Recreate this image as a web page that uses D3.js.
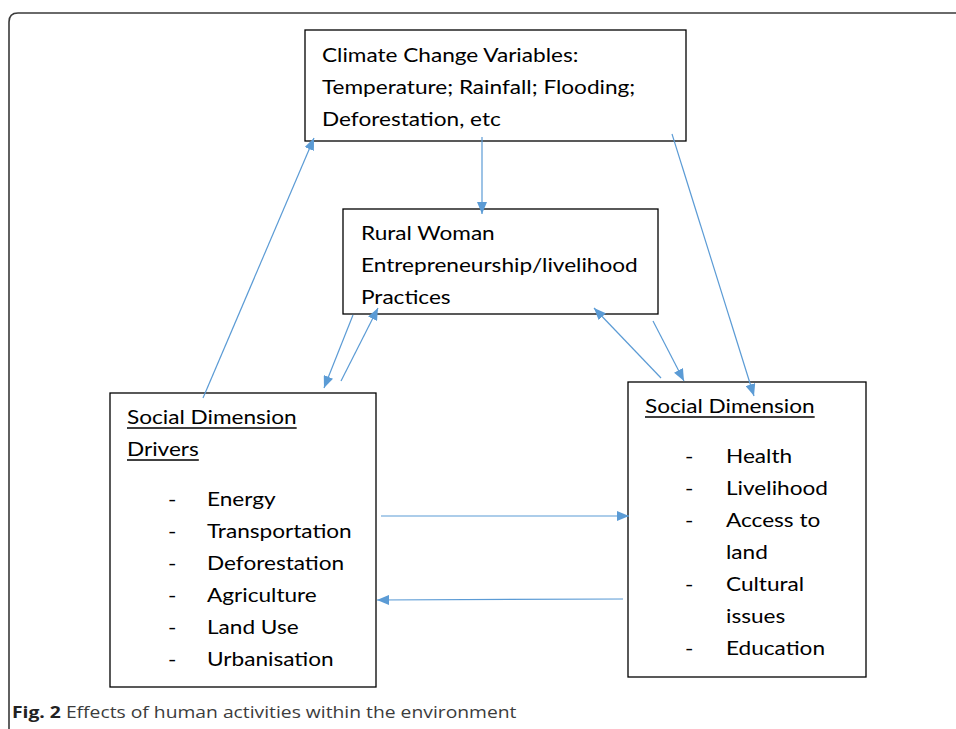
<!DOCTYPE html>
<html><head><meta charset="utf-8">
<script src="https://cdn.jsdelivr.net/npm/d3@7"></script>
<style>
html,body{margin:0;padding:0;background:#fff;}
svg{display:block;}
</style></head>
<body><svg id="fig" width="956" height="729"></svg>
<script>
// ── diagram content ──
const climateLines=['Climate Change Variables:','Temperature; Rainfall; Flooding;','Deforestation, etc'];
const ruralLines=['Rural Woman','Entrepreneurship/livelihood','Practices'];
const driverHead=['Social Dimension','Drivers'];
const driverItems=['Energy','Transportation','Deforestation','Agriculture','Land Use','Urbanisation'];
const socialHead=['Social Dimension'];
const socialItems=['Health','Livelihood','Access to','land','Cultural','issues','Education'];
const socialDash=[true,true,true,false,true,false,true];
const captionBold='Fig. 2';
const captionText=' Effects of human activities within the environment';
// arrows: [x1,y1,x2,y2] tail → tip
const arrowLinks=[
  [203,398,314,138],
  [482,137,482,214],
  [672,134,754,396],
  [353,315,324,388],
  [341,381,378,308],
  [661,378,594,308],
  [653,321,684,381],
  [381,516,629,516],
  [623,599,377,600]
];

const svg=d3.select('#fig');
const FONT='Lato, "Open Sans", sans-serif';
const BLUE='#5b9bd5';
const LH=32;

// outer frame (rounded top-left corner, runs off right/bottom)
svg.append('path')
  .attr('d','M9,740 L9,22 Q9,13 18,13 L970,13')
  .attr('fill','none').attr('stroke','#3a3a3a').attr('stroke-width',1.6);

svg.append('defs').append('marker')
  .attr('id','ah').attr('viewBox','0 0 12 10').attr('refX',12).attr('refY',5)
  .attr('markerWidth',12).attr('markerHeight',10).attr('markerUnits','userSpaceOnUse')
  .attr('orient','auto')
  .append('path').attr('d','M0,0 L12,5 L0,10 Z').attr('fill',BLUE);

// horizontal stretch so the text runs as wide as the source lettering
const probe=svg.append('text').attr('font-family',FONT).attr('font-size',20).text(ruralLines[1]);
const SX=277/probe.node().getComputedTextLength();
probe.remove();

function txt(x,y,t){
  return svg.append('text').attr('transform',`translate(${x},${y}) scale(${SX},1)`)
    .attr('font-family',FONT).attr('font-size',20).attr('fill','#000').text(t);
}
function box(x,y,w,h){
  svg.append('rect').attr('x',x).attr('y',y).attr('width',w).attr('height',h)
    .attr('fill','#fff').attr('stroke','#000').attr('stroke-width',1.3);
}
function lines(arr,x,y0,underline){
  arr.forEach((t,i)=>{
    const tx=txt(x,y0+i*LH,t);
    if(underline){
      const w=tx.node().getComputedTextLength()*SX;
      svg.append('line').attr('x1',x).attr('x2',x+w)
        .attr('y1',y0+i*LH+4).attr('y2',y0+i*LH+4)
        .attr('stroke','#000').attr('stroke-width',1.4);
    }
  });
}
function items(arr,dashX,x,y0,dashes){
  arr.forEach((t,i)=>{
    if(!dashes||dashes[i])txt(dashX,y0+i*LH,'-');
    txt(x,y0+i*LH,t);
  });
}

box(305,30,381,111);
lines(climateLines,322,61.5);
box(343,209,315,105);
lines(ruralLines,361,239.5);
box(110,393,266,294);
lines(driverHead,127,424,true);
items(driverItems,168,207,506);
box(628,382,238,295);
lines(socialHead,645,413,true);
items(socialItems,685,726,463,socialDash);

svg.append('g').selectAll('line').data(arrowLinks).join('line')
  .attr('x1',d=>d[0]).attr('y1',d=>d[1]).attr('x2',d=>d[2]).attr('y2',d=>d[3])
  .attr('stroke',BLUE).attr('stroke-width',1.2).attr('marker-end','url(#ah)');

// caption
const cap=svg.append('text')
  .attr('font-family','"Open Sans", sans-serif').attr('font-size',16.5).attr('fill','#3c3c3c');
cap.append('tspan').attr('font-weight','bold').attr('fill','#222').text(captionBold);
cap.append('tspan').text(captionText);
const CSX=505/cap.node().getComputedTextLength();
cap.attr('transform',`translate(12,718) scale(${CSX},1)`);
</script></body></html>
